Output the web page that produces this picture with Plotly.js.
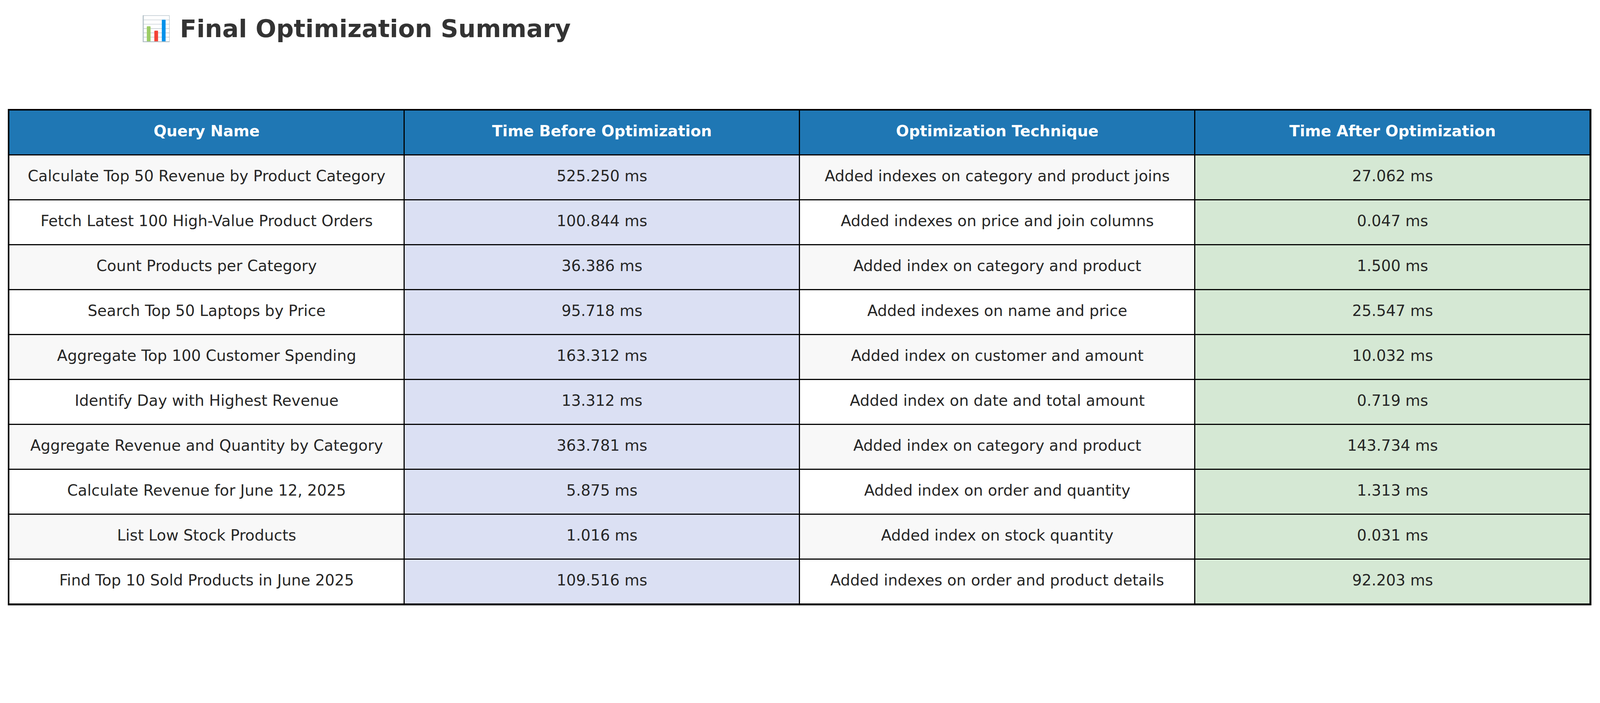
<html><head><script src="https://cdn.plot.ly/plotly-3.0.1.min.js"></script></head><body style="margin:0;overflow:hidden">
<div id="c"></div>
<script>
const headers = ["Query Name","Time Before Optimization","Optimization Technique","Time After Optimization"];
const queryNames = ["Calculate Top 50 Revenue by Product Category","Fetch Latest 100 High-Value Product Orders","Count Products per Category","Search Top 50 Laptops by Price","Aggregate Top 100 Customer Spending","Identify Day with Highest Revenue","Aggregate Revenue and Quantity by Category","Calculate Revenue for June 12, 2025","List Low Stock Products","Find Top 10 Sold Products in June 2025"];
const timeBefore = ["525.250 ms","100.844 ms","36.386 ms","95.718 ms","163.312 ms","13.312 ms","363.781 ms","5.875 ms","1.016 ms","109.516 ms"];
const techniques = ["Added indexes on category and product joins","Added indexes on price and join columns","Added index on category and product","Added indexes on name and price","Added index on customer and amount","Added index on date and total amount","Added index on category and product","Added index on order and quantity","Added index on stock quantity","Added indexes on order and product details"];
const timeAfter = ["27.062 ms","0.047 ms","1.500 ms","25.547 ms","10.032 ms","0.719 ms","143.734 ms","1.313 ms","0.031 ms","92.203 ms"];

const W = window.innerWidth || 4200, H = window.innerHeight || 1800;
const s = W/4200;
const cols = [queryNames,timeBefore,techniques,timeAfter];
const nR = queryNames.length;
// fill codes: 0 header, 1 grey, 2 white, 3 lavender, 4 green
const z = [[0,0,0,0]];
for (let i=0;i<nR;i++){ const a = i%2===0?1:2; z.push([a,3,a,4]); }
const cs = [[0,"#1f77b4"],[0.2,"#1f77b4"],[0.2,"#f8f8f8"],[0.4,"#f8f8f8"],[0.4,"#ffffff"],[0.6,"#ffffff"],[0.6,"#dbe0f3"],[0.8,"#dbe0f3"],[0.8,"#d5e8d4"],[1,"#d5e8d4"]];
const bx=[],by=[],bt=[];
cols.forEach((c,j)=>c.forEach((v,i)=>{bx.push(j);by.push(i+1);bt.push(v);}));
Plotly.newPlot("c",[
 {type:"heatmap",z:z,x:[0,1,2,3],y:[...Array(nR+1).keys()],colorscale:cs,zmin:0,zmax:4,showscale:false,xgap:3*s,ygap:3*s,hoverinfo:"skip"},
 {type:"scatter",mode:"text",x:[0,1,2,3],y:[0,0,0,0],text:headers.map(h=>"<b>"+h+"</b>"),textfont:{family:"DejaVu Sans",size:40*s,color:"white"},hoverinfo:"skip"},
 {type:"scatter",mode:"text",x:bx,y:by,text:bt,textfont:{family:"DejaVu Sans",size:40*s,color:"#262626"},hoverinfo:"skip"}
],{
  width:W,height:H,showlegend:false,paper_bgcolor:"white",plot_bgcolor:"black",
  margin:{l:24*s,r:W-4174*s,t:289*s,b:H-1586*s,pad:0},
  xaxis:{range:[-0.5,3.5],showgrid:false,zeroline:false,showticklabels:false,ticks:"",showline:true,mirror:true,linecolor:"black",linewidth:3*s,fixedrange:true},
  yaxis:{range:[nR+0.5,-0.5],showgrid:false,zeroline:false,showticklabels:false,ticks:"",showline:true,mirror:true,linecolor:"black",linewidth:3*s,fixedrange:true},
  title:{text:"<b>📊 Final Optimization Summary</b>",x:370/4200,xanchor:"left",y:1-75*s/H,yanchor:"middle",
    font:{family:"DejaVu Sans",size:64*s,color:"#333333"}}
},{displayModeBar:false});
</script></body></html>
